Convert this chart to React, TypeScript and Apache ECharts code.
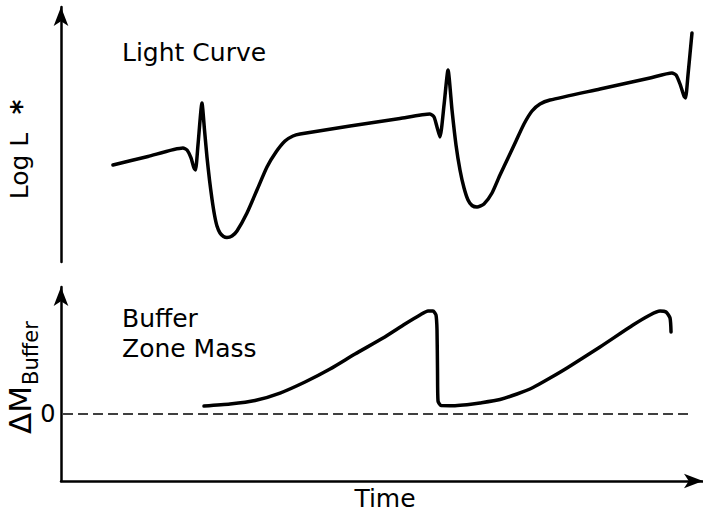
import React, { useEffect, useRef } from "react";
import * as echarts from "echarts";

// Light curve (top panel): time (arbitrary units) vs log L* (arbitrary units)
const lightTime = [
  8.21, 13.74, 19.27, 19.91, 20.54, 21.01, 21.25, 21.64, 22.27, 22.67, 23.06, 23.46, 23.85, 24.25,
  24.64, 25.12, 25.67, 26.22, 27.01, 27.8, 29.38, 30.96, 32.54, 33.97, 35.39, 36.65, 37.76, 45.66,
  53.55, 58.29, 58.93, 59.4, 59.87, 60.51, 61.14, 61.77, 62.4, 63.03, 63.67, 64.3, 64.93, 65.72,
  66.82, 68.09, 69.35, 70.62, 71.88, 73.14, 74.41, 75.67, 77.25, 85.15, 93.05, 96.52, 97.16, 97.79,
  98.42, 98.66, 99.05, 99.68,
];
const lightLogL = [
  39.43, 42.89, 46.34, 45.53, 42.28, 38.21, 37.4, 47.56, 64.63, 53.66, 42.68, 33.33, 25.61, 19.11,
  14.63, 11.79, 10.37, 9.96, 10.57, 12.6, 19.92, 29.27, 38.62, 44.72, 49.19, 51.22, 52.03, 55.28,
  58.33, 60.16, 58.94, 54.88, 50.81, 63.82, 78.05, 61.79, 47.56, 37.4, 30.08, 25.2, 22.97, 22.36,
  23.58, 28.05, 35.37, 42.28, 49.19, 56.1, 61.38, 64.23, 65.85, 70.33, 74.8, 76.83, 76.02, 72.36,
  67.48, 66.67, 76.02, 93.09,
];

// Buffer zone mass (bottom panel): time vs ΔM_Buffer (arbitrary units, 0 = reference level)
const bufferTime = [
  22.59, 26.7, 30.65, 34.6, 38.55, 42.5, 46.45, 50.87, 54.34, 56.71, 57.98, 58.77, 59.24, 59.4,
  59.48, 59.56, 60.03, 62.24, 64.14, 66.19, 69.35, 72.04, 74.57, 77.25, 79.94, 85.15, 90.36, 93.05,
  94.63, 95.58, 96.21, 96.37,
];
const bufferMass = [
  0.119, 0.149, 0.201, 0.313, 0.478, 0.672, 0.896, 1.134, 1.343, 1.478, 1.537, 1.537, 1.478, 1.254,
  0.657, 0.194, 0.127, 0.125, 0.137, 0.164, 0.216, 0.299, 0.396, 0.537, 0.687, 1.0, 1.328, 1.478,
  1.537, 1.522, 1.433, 1.224,
];

// Zero reference line (dashed)
const zeroTime = [0.32, 99.37];
const zeroMass = [0, 0];

// Tick labels on the buffer axis
const bufferTickValues = [0];
const bufferTickLabels = ["0"];

const FONT = "'DejaVu Sans', 'Liberation Sans', sans-serif";

export default function App() {
  const ref = useRef<HTMLDivElement>(null);

  useEffect(() => {
    if (!ref.current) return;
    const chart = echarts.init(ref.current, null, { renderer: "svg" });

    const axisLineStyle = { color: "#000", width: 2.5 };
    const arrowLine = {
      show: true,
      onZero: false,
      symbol: ["none", "arrow"],
      symbolSize: [11, 19],
      lineStyle: axisLineStyle,
    };
    const zip = (xs: number[], ys: number[]) => xs.map((x, i) => [x, ys[i]]);

    chart.setOption({
      animation: false,
      backgroundColor: "#ffffff",
      grid: [
        { left: 61, right: 0, top: 7, bottom: 252 },
        { left: 61, right: 0, top: 287, bottom: 33 },
      ],
      xAxis: [
        { gridIndex: 0, type: "value", min: 0, max: 101.42, show: false },
        {
          gridIndex: 1,
          type: "value",
          min: 0,
          max: 101.42,
          axisLine: arrowLine,
          axisTick: { show: false },
          axisLabel: { show: false },
          splitLine: { show: false },
        },
      ],
      yAxis: [
        {
          gridIndex: 0,
          type: "value",
          min: 0,
          max: 103.66,
          axisLine: arrowLine,
          axisTick: { show: false },
          axisLabel: { show: false },
          splitLine: { show: false },
        },
        {
          gridIndex: 1,
          type: "value",
          min: -1,
          max: 1.896,
          axisLine: arrowLine,
          axisTick: { show: false },
          axisLabel: { show: false },
          splitLine: { show: false },
        },
      ],
      series: [
        {
          type: "line",
          xAxisIndex: 0,
          yAxisIndex: 0,
          data: zip(lightTime, lightLogL),
          showSymbol: false,
          smooth: 0.2,
          lineStyle: { color: "#000", width: 3.5, cap: "round", join: "round" },
        },
        {
          type: "line",
          xAxisIndex: 1,
          yAxisIndex: 1,
          data: zip(zeroTime, zeroMass),
          showSymbol: false,
          lineStyle: { color: "#000", width: 1.5, type: [10, 5] },
        },
        {
          type: "line",
          xAxisIndex: 1,
          yAxisIndex: 1,
          data: zip(bufferTime, bufferMass),
          showSymbol: false,
          smooth: 0.2,
          lineStyle: { color: "#000", width: 3.5, cap: "round", join: "round" },
        },
      ],
    });

    // Tick labels placed through the axis scale
    const tickTexts = bufferTickValues.map((v, i) => {
      const p = chart.convertToPixel({ xAxisIndex: 1, yAxisIndex: 1 }, [0, v]) as number[];
      return {
        type: "text",
        x: p[0] - 13,
        y: p[1],
        style: {
          text: bufferTickLabels[i],
          fontSize: 24,
          fontFamily: FONT,
          fill: "#000",
          align: "center",
          verticalAlign: "middle",
        },
      };
    });

    const txt = (text: string, x: number, y: number, fontSize: number, align = "left", rotation = 0) => ({
      type: "text",
      x,
      y,
      rotation,
      style: { text, fontSize, fontFamily: FONT, fill: "#000", align, verticalAlign: "middle" },
    });

    chart.setOption({
      graphic: [
        txt("Light Curve", 122, 52, 25),
        txt("Buffer", 122, 318, 25),
        txt("Zone Mass", 122, 348, 25),
        txt("Time", 385, 498, 25, "center"),
        txt("Log L", 19, 166, 25, "center", Math.PI / 2),
        {
          type: "text",
          x: 21,
          y: 107,
          rotation: Math.PI / 2,
          style: { text: "*", fontSize: 28, fontWeight: "bold", fontFamily: FONT, fill: "#000", align: "center", verticalAlign: "middle" },
        },
        txt("ΔM", 19.5, 410, 31, "center", Math.PI / 2),
        txt("Buffer", 31, 353, 21, "center", Math.PI / 2),
        ...tickTexts,
      ],
    });

    return () => chart.dispose();
  }, []);

  return (
    <div
      ref={ref}
      style={{ position: "fixed", left: 0, top: 0, width: 703, height: 514 }}
    />
  );
}
